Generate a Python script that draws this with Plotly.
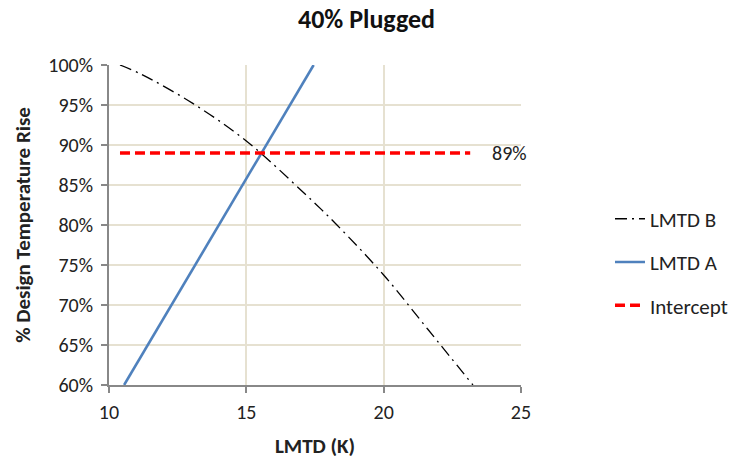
import plotly.graph_objects as go

# LMTD B (curve)
b_x = [10.4, 11.2, 13.05, 15.0, 17.1, 18.3, 20.0, 21.6, 23.25]
b_y = [1.00, 0.988, 0.952, 0.905, 0.84, 0.80, 0.7375, 0.67, 0.60]

# LMTD A (straight line)
a_x = [10.55, 17.45]
a_y = [0.60, 1.00]

# Intercept
i_x = [10.4, 23.15]
i_y = [0.89, 0.89]
intercept_label = "89%"

x_ticks = [10, 15, 20, 25]
y_ticks = [0.60, 0.65, 0.70, 0.75, 0.80, 0.85, 0.90, 0.95, 1.00]

font_family = "Carlito, Calibri, Lato, 'Open Sans', Arial, sans-serif"

fig = go.Figure()
fig.add_trace(go.Scatter(x=b_x, y=b_y, mode="lines", name="LMTD B",
                         line=dict(color="black", width=1.3, dash="12px,5px,2px,5px", shape="spline"),
                         legendgroup="b"))
fig.add_trace(go.Scatter(x=a_x, y=a_y, mode="lines", name="LMTD A",
                         line=dict(color="#4F81BD", width=2.6),
                         legendgroup="a"))
fig.add_trace(go.Scatter(x=i_x, y=i_y, mode="lines", name="Intercept",
                         line=dict(color="#FF0000", width=3.5, dash="10px,5px"),
                         legendgroup="i"))

fig.add_annotation(x=i_x[-1], y=i_y[-1], text=intercept_label, showarrow=False,
                   xanchor="left", yanchor="middle", xshift=20,
                   font=dict(size=20, color="#222"))

fig.update_layout(
    width=733, height=459,
    margin=dict(l=108.5, r=212, t=65, b=74, autoexpand=False),
    paper_bgcolor="white", plot_bgcolor="white",
    font=dict(family=font_family, size=20, color="#222"),
    title=dict(text="<b>40% Plugged</b>", x=0.5, xref="container", xanchor="center",
               y=1 - 19 / 459, yref="container", yanchor="middle",
               font=dict(size=26, color="#111")),
    legend=dict(x=1.216, xanchor="left", y=0.384, yanchor="middle",
                tracegroupgap=13, font=dict(size=21, color="#222"),
                bgcolor="rgba(0,0,0,0)"),
    showlegend=True,
)
fig.update_xaxes(range=[10, 25], tickvals=x_ticks, showgrid=True, gridcolor="#E6E1D1",
                 gridwidth=1.5, showline=True, linecolor="#888888", linewidth=2,
                 ticks="outside", tickcolor="#888888", ticklen=6, tickwidth=2,
                 ticklabelstandoff=2, zeroline=False,
                 title=dict(text="<b>LMTD (K)</b>", font=dict(size=21, color="#222"), standoff=16))
fig.update_yaxes(range=[0.60, 1.00], tickvals=y_ticks, tickformat=".0%", showgrid=True,
                 gridcolor="#E6E1D1", gridwidth=1.5, showline=True, linecolor="#888888",
                 linewidth=2, ticks="outside", tickcolor="#888888", ticklen=6, tickwidth=2,
                 ticklabelstandoff=4, zeroline=False,
                 title=dict(text="<b>% Design Temperature Rise</b>", font=dict(size=21, color="#222"),
                            standoff=12))

fig.write_html("out.html", config={"displayModeBar": False},
               post_script="document.body.style.margin='0px';")
